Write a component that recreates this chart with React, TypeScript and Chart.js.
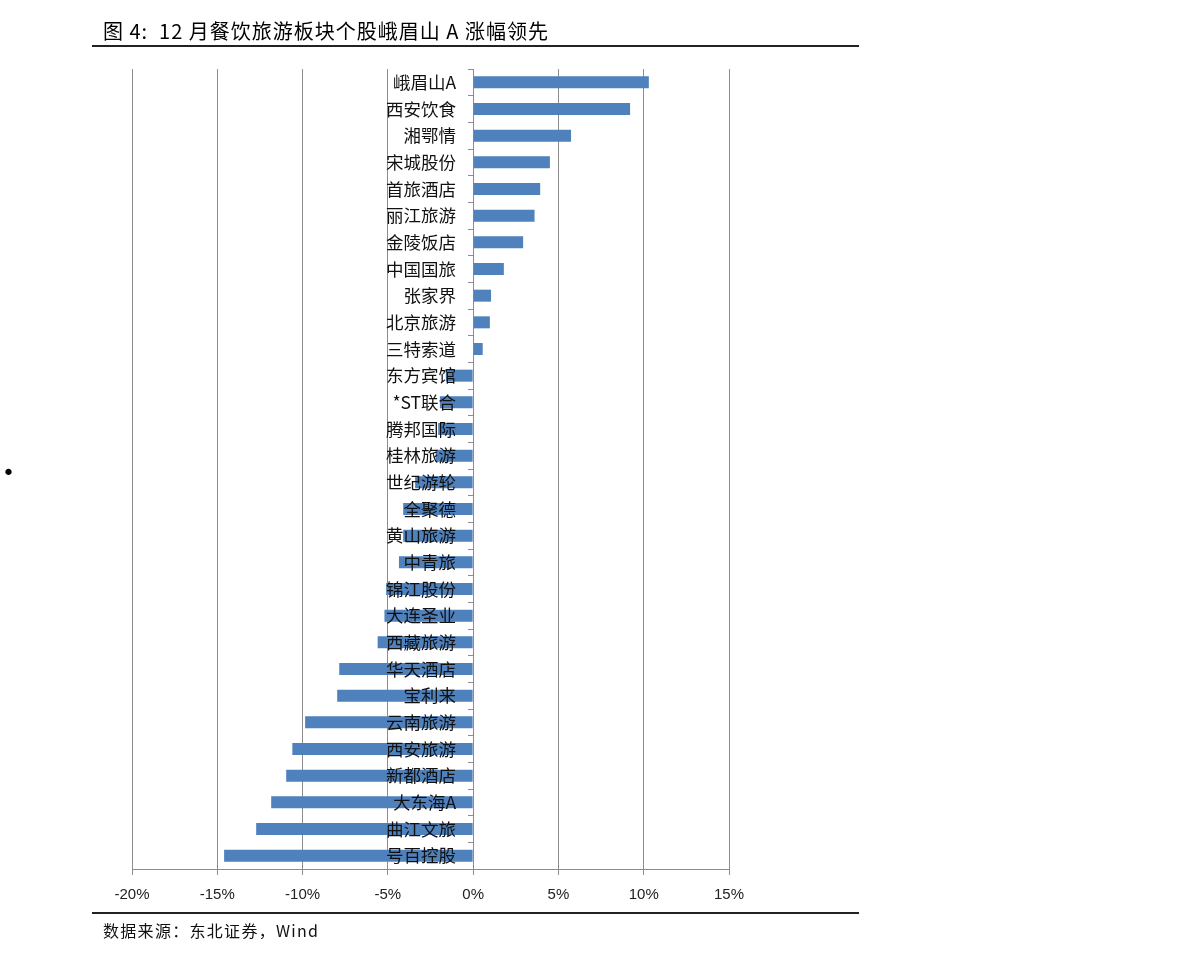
import React, { useEffect, useRef } from 'react';
import { Chart, registerables } from 'chart.js';
Chart.register(...registerables);

const categories = [
  '峨眉山A', '西安饮食', '湘鄂情', '宋城股份', '首旅酒店', '丽江旅游', '金陵饭店', '中国国旅',
  '张家界', '北京旅游', '三特索道', '东方宾馆', '*ST联合', '腾邦国际', '桂林旅游', '世纪游轮',
  '全聚德', '黄山旅游', '中青旅', '锦江股份', '大连圣业', '西藏旅游', '华天酒店', '宝利来',
  '云南旅游', '西安旅游', '新都酒店', '大东海A', '曲江文旅', '号百控股',
];

const changePct = [
  10.3, 9.2, 5.74, 4.5, 3.93, 3.6, 2.93, 1.8,
  1.05, 0.98, 0.56, -1.6, -1.95, -2.05, -2.2, -3.4,
  -4.1, -4.1, -4.35, -5.1, -5.2, -5.6, -7.85, -7.97,
  -9.85, -10.6, -10.96, -11.84, -12.72, -14.6,
];

const xMin = -20;
const xMax = 15;
const xStep = 5;
const labelAnchorPct = -1.0;

const titleText = '图 4:  12 月餐饮旅游板块个股峨眉山 A 涨幅领先';
const sourceText = '数据来源：东北证券，Wind';

export default function App() {
  const canvasRef = useRef<HTMLCanvasElement | null>(null);

  useEffect(() => {
    const canvas = canvasRef.current;
    if (!canvas) return;
    const chart = new Chart(canvas, {
      type: 'bar',
      data: {
        labels: categories,
        datasets: [
          {
            data: changePct,
            backgroundColor: '#4F81BD',
            borderWidth: 0,
            categoryPercentage: 1,
            barPercentage: 0.45,
            xAxisID: 'x',
            yAxisID: 'y',
          },
        ],
      },
      options: {
        indexAxis: 'y',
        animation: false,
        responsive: false,
        maintainAspectRatio: false,
        layout: { padding: { left: 132, right: 462, top: 69, bottom: 45 } },
        plugins: {
          legend: { display: false },
          tooltip: { enabled: false },
          title: { display: false },
        },
        scales: {
          x: {
            type: 'linear',
            min: xMin,
            max: xMax,
            ticks: {
              stepSize: xStep,
              padding: 11,
              color: '#222',
              font: { family: '"Liberation Sans", Arial, sans-serif', size: 15 },
              callback: (v: any) => `${v}%`,
            },
            grid: {
              color: '#8c8c8c',
              lineWidth: 1,
              drawTicks: true,
              tickLength: 6,
              tickColor: '#8c8c8c',
            },
            border: { display: true, color: '#8c8c8c', width: 1 },
          },
          y: {
            type: 'category',
            position: { x: 0 } as any,
            offset: true,
            ticks: { display: false },
            grid: {
              drawOnChartArea: false,
              drawTicks: true,
              tickLength: 5,
              color: '#8c8c8c',
              offset: true,
            },
            border: { display: true, color: '#8c8c8c', width: 1 },
          },
          yLabels: {
            type: 'category',
            axis: 'y',
            labels: categories,
            position: { x: labelAnchorPct } as any,
            offset: true,
            ticks: {
              z: 1,
              padding: 0,
              color: '#111',
              font: { family: '"Noto Sans CJK SC", sans-serif', size: 17.5 },
              autoSkip: false,
            },
            grid: { display: false, drawTicks: false, tickLength: 0 },
            border: { display: false },
          } as any,
        },
      },
    });
    return () => chart.destroy();
  }, []);

  return (
    <div style={{ position: 'absolute', left: 0, top: 0, width: 1191, height: 960, background: '#fff' }}>
      <canvas
        ref={canvasRef}
        width={1191}
        height={960}
        style={{ position: 'absolute', left: 0, top: 0, width: 1191, height: 960 }}
      />
      <div
        style={{
          position: 'absolute',
          left: 103,
          top: 18,
          fontFamily: '"Noto Sans CJK SC", sans-serif',
          fontSize: 20,
          letterSpacing: 1,
          lineHeight: '26px',
          color: '#000',
          whiteSpace: 'pre',
        }}
      >
        {titleText}
      </div>
      <div style={{ position: 'absolute', left: 92, top: 45, width: 767, height: 2, background: '#222' }} />
      <div style={{ position: 'absolute', left: 92, top: 912, width: 767, height: 2, background: '#222' }} />
      <div
        style={{
          position: 'absolute',
          left: 103,
          top: 919,
          fontFamily: '"Noto Sans CJK SC", sans-serif',
          fontSize: 16,
          letterSpacing: 1.3,
          lineHeight: '22px',
          color: '#111',
          whiteSpace: 'pre',
        }}
      >
        {sourceText}
      </div>
      <div
        style={{
          position: 'absolute',
          left: 2,
          top: 459,
          fontFamily: '"DejaVu Sans", sans-serif',
          fontSize: 22,
          lineHeight: '28px',
          color: '#000',
        }}
      >
        •
      </div>
    </div>
  );
}
